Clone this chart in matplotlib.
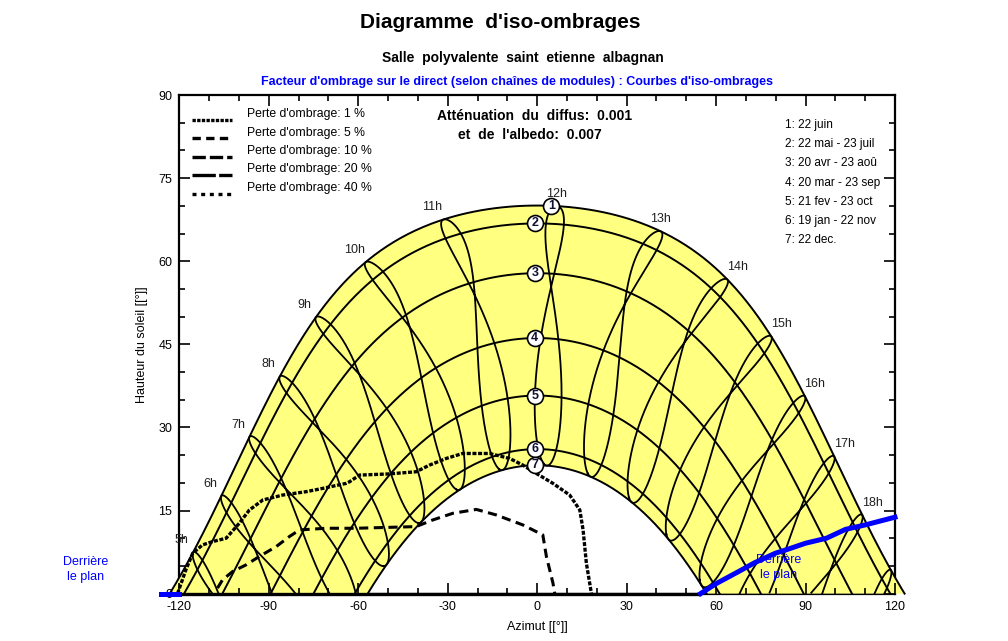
import numpy as np
import matplotlib
matplotlib.use("Agg")
import matplotlib.pyplot as plt

plt.rcParams["font.family"] = ["Liberation Sans", "DejaVu Sans"]
plt.rcParams["axes.unicode_minus"] = False

# ── Site / diagram parameters ────────────────────────────────────────────────
LATITUDE = 43.4          # deg N  (noon heights 70 deg in June, 23 deg in December)
LONGITUDE = 2.86         # deg E
TIME_ZONE = 0.0          # hours

# date curves 1..7 (day of year of the first date of each pair)
DATE_DAYS = [173, 142, 110, 79, 52, 19, 356]
DATE_LABELS = ["1: 22 juin", "2: 22 mai - 23 juil", "3: 20 avr - 23 aoû",
               "4: 20 mar - 23 sep", "5: 21 fev - 23 oct", "6: 19 jan - 22 nov",
               "7: 22 dec."]
CIRCLE_AZ = [4.8, -0.8, -0.8, -0.8, -0.8, -0.8, -0.8]

HOURS = list(range(5, 20))
HOUR_LABELS = [f"{h}h" for h in range(5, 19)]

# iso-shading curves (azimuth, height)
ISO_1_AZ = [-120.6, -117.8, -115.5, -112.2, -108.8, -104.3, -99.9, -96.5, -92.0,
            -85.3, -77.5, -71.9, -64.1, -62.9, -59.6, -50.0, -40.6, -36.1, -30.5,
            -25.0, -16.0, -9.2, -4.8, -0.3, 5.3, 10.9, 14.3, 15.4, 16.5, 18.2]
ISO_1_ALT = [0.0, 4.3, 7.3, 8.8, 9.4, 10.0, 12.7, 15.1, 16.9,
             17.8, 18.4, 19.0, 19.9, 20.2, 21.4, 21.6, 22.0, 23.2, 24.4,
             25.3, 25.3, 24.4, 23.2, 21.7, 19.9, 17.8, 15.1, 11.5, 5.5, 0.0]

ISO_5_AZ = [-107.2, -105.5, -102.1, -97.6, -93.2, -87.5, -83.1, -79.7, -70.8,
            -60.7, -40.6, -35.0, -28.3, -20.4, -13.7, -4.8, 1.9, 3.1, 5.3, 5.9]
ISO_5_ALT = [1.0, 2.5, 4.0, 5.2, 6.7, 8.5, 10.3, 11.5, 11.8,
             11.8, 12.1, 13.3, 14.5, 15.2, 14.2, 12.4, 10.6, 6.7, 1.9, 0.0]

ISO_LEGEND = ["Perte d'ombrage: 1 %", "Perte d'ombrage: 5 %", "Perte d'ombrage: 10 %",
              "Perte d'ombrage: 20 %", "Perte d'ombrage: 40 %"]

# "behind the plane" horizon line
BEHIND_AZ = [54.8, 60.0, 67.6, 73.0, 79.9, 84.0, 90.0, 97.0, 103.4, 110.0, 120.0]
BEHIND_ALT = [0.0, 1.8, 4.0, 5.6, 7.3, 8.0, 9.1, 10.0, 11.6, 12.4, 13.8]
BEHIND_LEFT_AZ = [-126.0, -120.0]
BEHIND_LEFT_ALT = [0.0, 0.0]
HORIZON_AZ = [-120.0, 54.8]
HORIZON_ALT = [0.0, 0.0]


# ── Solar geometry ───────────────────────────────────────────────────────────
def declination(n):
    g = 2 * np.pi * (np.asarray(n) - 1) / 365.0
    return (0.006918 - 0.399912*np.cos(g) + 0.070257*np.sin(g)
            - 0.006758*np.cos(2*g) + 0.000907*np.sin(2*g)
            - 0.002697*np.cos(3*g) + 0.00148*np.sin(3*g))


def eq_of_time(n):
    g = 2 * np.pi * (np.asarray(n) - 1) / 365.0
    return 229.18 * (0.000075 + 0.001868*np.cos(g) - 0.032077*np.sin(g)
                     - 0.014615*np.cos(2*g) - 0.040849*np.sin(2*g))


def sun_pos(dec, H_deg):
    lat = np.radians(LATITUDE)
    H = np.radians(H_deg)
    s = np.sin(lat)*np.sin(dec) + np.cos(lat)*np.cos(dec)*np.cos(H)
    alt = np.degrees(np.arcsin(np.clip(s, -1, 1)))
    az = np.degrees(np.arctan2(np.sin(H), np.cos(H)*np.sin(lat) - np.tan(dec)*np.cos(lat)))
    return az, alt


def date_curve(n):
    dec = declination(n)
    H0 = np.degrees(np.arccos(-np.tan(np.radians(LATITUDE)) * np.tan(dec)))
    H = np.linspace(-H0, H0, 500)
    az, alt = sun_pos(dec, H)
    alt = np.clip(alt, 0, None)
    return az, alt


def hour_line(t):
    n = np.append(np.arange(1, 366), 1)
    H = 15*(t - 12) + (LONGITUDE - 15*TIME_ZONE) + eq_of_time(n)/4.0
    az, alt = sun_pos(declination(n), H)
    alt = np.where(alt < 0, np.nan, alt)
    return az, alt


YELLOW = "#ffff80"
BLUE = "#0000ff"

fig = plt.figure(figsize=(10.08, 6.41), dpi=100)
ax = fig.add_axes([0.1779, 0.0739, 0.7100, 0.7778])

# yellow band between 22 June and 22 December
az_s, alt_s = date_curve(DATE_DAYS[0])
az_w, alt_w = date_curve(DATE_DAYS[-1])
ax.fill(np.concatenate([az_s, az_w[::-1]]), np.concatenate([alt_s, alt_w[::-1]]),
        color=YELLOW, lw=0, zorder=1, clip_on=False)

# date curves
curves = []
for n in DATE_DAYS:
    az, alt = date_curve(n)
    curves.append((az, alt))
    ax.plot(az, alt, color="black", lw=1.4, zorder=2, clip_on=False)

# hour lines
for t in HOURS:
    az, alt = hour_line(t)
    ax.plot(az, alt, color="black", lw=1.3, zorder=2, clip_on=False)

# hour labels at the 22 June point
for t, lab in zip(HOURS, HOUR_LABELS):
    H = 15*(t - 12) + (LONGITUDE - 15*TIME_ZONE) + eq_of_time(DATE_DAYS[0])/4.0
    az, alt = sun_pos(declination(DATE_DAYS[0]), H)
    if t <= 11:
        dx = -8
    elif t <= 13:
        dx = 0
    else:
        dx = 7
    ax.annotate(lab, (az, alt), xytext=(dx, 9), textcoords="offset points",
                ha="center", va="center", fontsize=9, color="#202020", zorder=6)

# numbered circles on the date curves
for i, ((az, alt), caz) in enumerate(zip(curves, CIRCLE_AZ)):
    calt = np.interp(caz, az, alt)
    ax.plot(caz, calt, "o", ms=11.5, mfc="white", mec="black", mew=1.2, zorder=7)
    ax.text(caz, calt, str(i + 1), ha="center", va="center", fontsize=9,
            fontweight="bold", color="#101030", zorder=8)

# iso-shading curves
ax.plot(ISO_1_AZ, ISO_1_ALT, color="black", lw=2.4, ls=(0, (1.2, 0.5)),
        zorder=4, clip_on=False)
ax.plot(ISO_5_AZ, ISO_5_ALT, color="black", lw=2.2, ls=(0, (3, 1.8)),
        zorder=4, clip_on=False)

# horizon and "behind the plane" lines
ax.plot(HORIZON_AZ, HORIZON_ALT, color="black", lw=2.4, zorder=5, clip_on=False,
        solid_capstyle="butt")
ax.plot(BEHIND_AZ, BEHIND_ALT, color=BLUE, lw=3.6, zorder=5, clip_on=False)
ax.plot(BEHIND_LEFT_AZ, BEHIND_LEFT_ALT, color=BLUE, lw=3.6, zorder=5, clip_on=False)
ax.text(81, 4.7, "Derrière\nle plan", color=BLUE, fontsize=9, ha="center",
        va="center", linespacing=1.3, zorder=6)
fig.text(0.085, 0.112, "Derrière\nle plan", color=BLUE, fontsize=9, ha="center",
         va="center", linespacing=1.3)

# axes
ax.set_xlim(-120, 120)
ax.set_ylim(0, 90)
ax.set_xticks(np.arange(-120, 121, 30))
ax.set_xticks(np.arange(-120, 121, 10), minor=True)
ax.set_yticks(np.arange(0, 91, 15))
ax.set_yticks(np.arange(0, 91, 5), minor=True)
ax.tick_params(which="both", direction="in", top=True, right=True,
               labelsize=9, width=1.2, pad=5)
ax.tick_params(which="major", length=8)
ax.tick_params(which="minor", length=4)
for sp in ax.spines.values():
    sp.set_linewidth(1.6)
    sp.set_zorder(0)

# iso-shading legend (top left)
iso_styles = [(0, (1, 0.4)), (0, (2.5, 1.6)), (0, (4, 1.2)), (0, (7, 1)), (0, (1.2, 1.4))]
for i, (lab, ls) in enumerate(zip(ISO_LEGEND, iso_styles)):
    y = 0.954 - i*0.0371
    ax.plot([0.018, 0.074], [y - 0.004, y - 0.004], transform=ax.transAxes,
            color="black", lw=2.4, ls=ls, clip_on=False, zorder=6)
    ax.text(0.095, y + 0.008, lab, transform=ax.transAxes, fontsize=8.8,
            ha="left", va="center", zorder=6)

# date legend (top right)
for i, lab in enumerate(DATE_LABELS):
    ax.text(0.846, 0.940 - i*0.0385, lab, transform=ax.transAxes, fontsize=8.5,
            ha="left", va="center", zorder=6)

ax.text(0.497, 0.958, "Atténuation  du  diffus:  0.001", transform=ax.transAxes,
        fontsize=10, fontweight="bold", ha="center", va="center")
ax.text(0.49, 0.920, "et  de  l'albedo:  0.007", transform=ax.transAxes,
        fontsize=10, fontweight="bold", ha="center", va="center")

# titles and axis labels
fig.text(0.496, 0.965, "Diagramme  d'iso-ombrages", fontsize=15, fontweight="bold",
         ha="center", va="center")
fig.text(0.519, 0.909, "Salle  polyvalente  saint  etienne  albagnan", fontsize=10,
         fontweight="bold", ha="center", va="center")
fig.text(0.513, 0.872, "Facteur d'ombrage sur le direct (selon chaînes de modules) : "
         "Courbes d'iso-ombrages", fontsize=9, fontweight="bold", color=BLUE,
         ha="center", va="center")
fig.text(0.533, 0.022, "Azimut [[°]]", fontsize=9, ha="center", va="center")
fig.text(0.141, 0.462, "Hauteur du soleil [[°]]", fontsize=9, ha="center",
         va="center", rotation=90)

fig.savefig("out.png", dpi=100)
